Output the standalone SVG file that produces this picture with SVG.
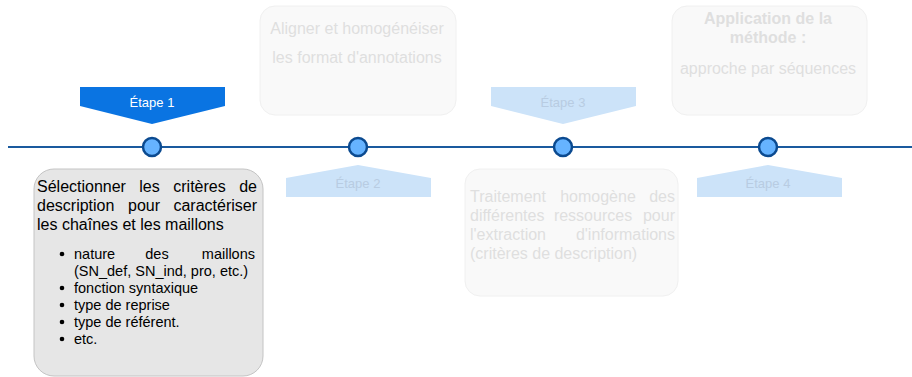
<svg xmlns="http://www.w3.org/2000/svg" width="912" height="377" viewBox="0 0 912 377">
<style>
text{font-family:"Liberation Sans",Arial,sans-serif}
.dot{fill:#66b3ff;stroke:#0b4a90;stroke-width:2.5}
.fade{fill:#f9f9f9;stroke:#f0f0f0;stroke-width:1}
.ft{fill:#dfdfdf;font-size:16px}
.lab{font-size:13px;text-anchor:middle}
.pale{fill:#cce3f9}
.palet{fill:#b8cce2}
.t1{font-size:16px;fill:#000}
.b{font-size:14.5px;fill:#000}
</style>
<rect width="912" height="377" fill="#fff"/>
<g id="connectors">
<line x1="8" y1="147" x2="912" y2="147" stroke="#1a5a9e" stroke-width="2"/>
</g>
<g id="step2-box">
<rect class="fade" x="260" y="6" width="196" height="109" rx="15"/>
<text class="ft" x="357" y="34" text-anchor="middle">Aligner et homogénéiser</text>
<text class="ft" x="357" y="63" text-anchor="middle">les format d'annotations</text>
</g>
<g id="step4-box">
<rect class="fade" x="672" y="6" width="195" height="109" rx="15"/>
<text class="ft" x="768" y="24" text-anchor="middle" font-weight="bold">Application de la</text>
<text class="ft" x="768" y="43" text-anchor="middle" font-weight="bold">méthode :</text>
<text class="ft" x="768" y="74" text-anchor="middle">approche par séquences</text>
</g>
<g id="step3-box">
<rect class="fade" x="465" y="169" width="213" height="127" rx="15"/>
<text class="ft" x="470" y="202">Traitement</text>
<text class="ft" x="598" y="202" text-anchor="middle">homogène</text>
<text class="ft" x="675" y="202" text-anchor="end">des</text>
<text class="ft" x="470" y="221">différentes</text>
<text class="ft" x="593" y="221" text-anchor="middle">ressources</text>
<text class="ft" x="675" y="221" text-anchor="end">pour</text>
<text class="ft" x="470" y="240">l'extraction</text>
<text class="ft" x="675" y="240" text-anchor="end">d'informations</text>
<text class="ft" x="470" y="259">(critères de description)</text>
</g>
<g id="step1-box">
<rect x="34" y="169" width="229" height="207" rx="20" fill="#e6e6e6" stroke="#c4c4c4" stroke-width="1"/>
<text class="t1" x="37" y="192">Sélectionner</text>
<text class="t1" x="149.5" y="192" text-anchor="middle">les</text>
<text class="t1" x="199.5" y="192" text-anchor="middle">critères</text>
<text class="t1" x="257" y="192" text-anchor="end">de</text>
<text class="t1" x="37" y="211">description</text>
<text class="t1" x="144" y="211" text-anchor="middle">pour</text>
<text class="t1" x="257" y="211" text-anchor="end">caractériser</text>
<text class="t1" x="37" y="230">les chaînes et les maillons</text>
<g class="b">
<circle cx="62" cy="254" r="2.3" fill="#000"/>
<circle cx="62" cy="288" r="2.3" fill="#000"/>
<circle cx="62" cy="305" r="2.3" fill="#000"/>
<circle cx="62" cy="322" r="2.3" fill="#000"/>
<circle cx="62" cy="339" r="2.3" fill="#000"/>
<text class="b" x="74" y="259">nature</text>
<text class="b" x="157" y="259" text-anchor="middle">des</text>
<text class="b" x="255" y="259" text-anchor="end">maillons</text>
<text class="b" x="74" y="276">(SN_def, SN_ind, pro, etc.)</text>
<text class="b" x="74" y="293">fonction syntaxique</text>
<text class="b" x="74" y="310">type de reprise</text>
<text class="b" x="74" y="327">type de référent.</text>
<text class="b" x="74" y="344">etc.</text>
</g>
</g>
<g id="etape1">
<polygon points="80,87 225,87 225,106 152,124 80,106" fill="#0a74e2"/>
<text class="lab" x="152" y="107" fill="#fff">Étape 1</text>
</g>
<g id="etape2">
<polygon class="pale" points="286,178 358,165 431,178 431,197 286,197"/>
<text class="lab palet" x="358" y="188">Étape 2</text>
</g>
<g id="etape3">
<polygon class="pale" points="491,87 636,87 636,106 563,124 491,106"/>
<text class="lab palet" x="563" y="107">Étape 3</text>
</g>
<g id="etape4">
<polygon class="pale" points="697,178 768,165 842,178 842,197 697,197"/>
<text class="lab palet" x="768" y="188">Étape 4</text>
</g>
<g id="milestones">
<circle class="dot" cx="152" cy="147" r="9"/>
<circle class="dot" cx="358" cy="147" r="9"/>
<circle class="dot" cx="563" cy="147" r="9"/>
<circle class="dot" cx="768" cy="147" r="9"/>
</g>
</svg>
